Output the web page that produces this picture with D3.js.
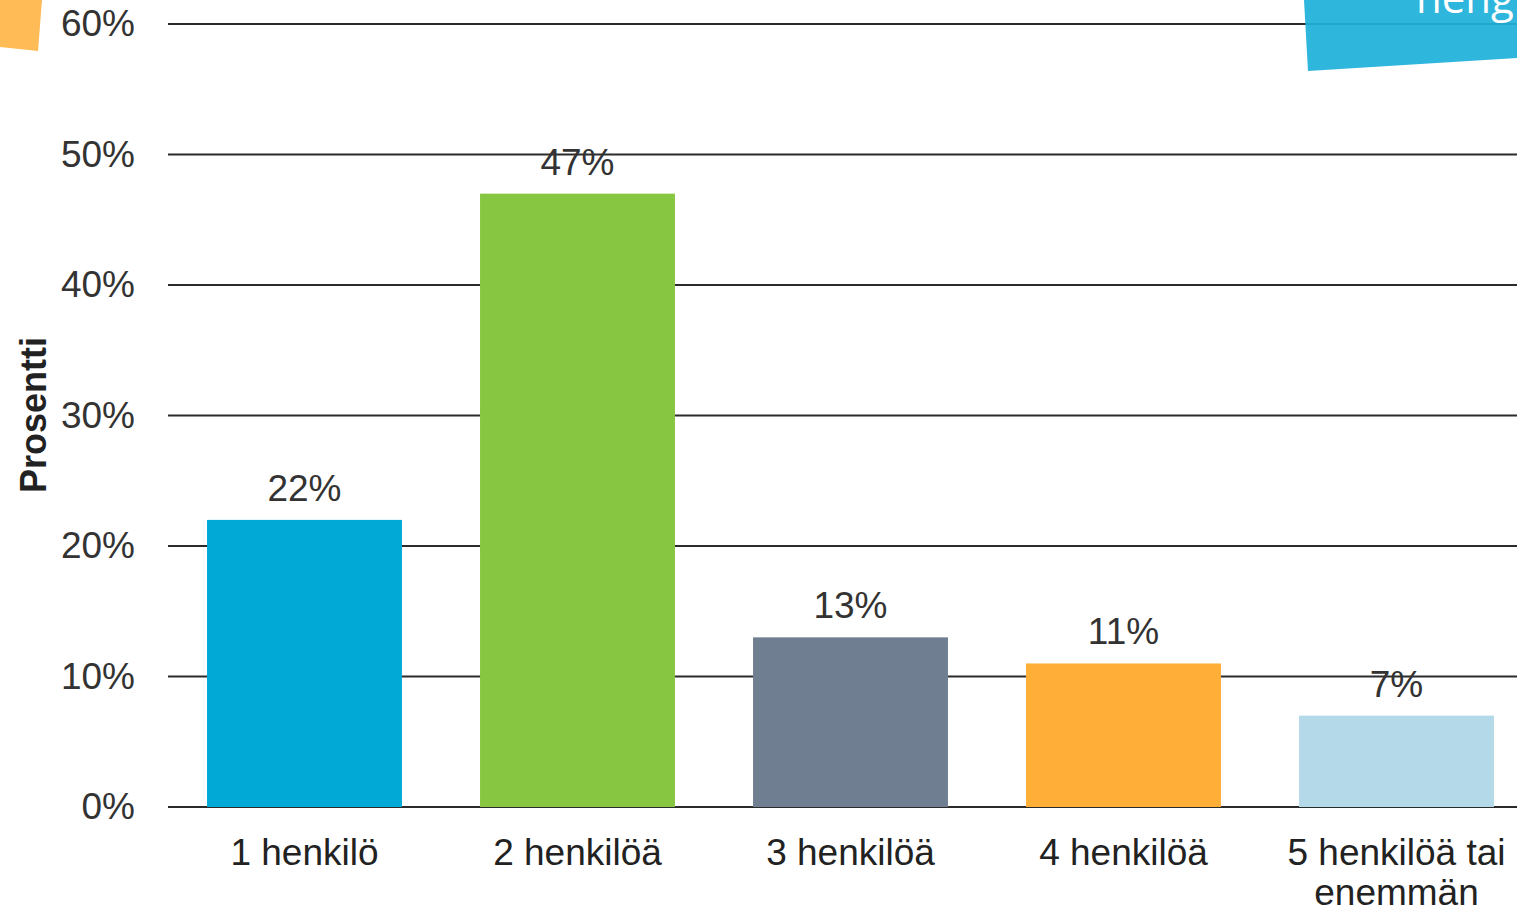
<!DOCTYPE html>
<html>
<head>
<meta charset="utf-8">
<script src="https://cdn.jsdelivr.net/npm/d3@7"></script>
<style>
  body { margin: 0; background: #fff; overflow: hidden; }
  svg { display: block; font-family: "Liberation Sans", Arial, sans-serif; }
</style>
</head>
<body>
<svg id="chart" width="1517" height="911"></svg>
<script>
const categories = [['1 henkilö'], ['2 henkilöä'], ['3 henkilöä'], ['4 henkilöä'], ['5 henkilöä tai', 'enemmän']]
const values = [22, 47, 13, 11, 7]
const barColors = ['#00a9d6', '#86c640', '#6f7f91', '#ffaf37', '#b4d9e8']
const yTicks = [0, 10, 20, 30, 40, 50, 60]

const svg = d3.select('#chart')
const y = d3.scaleLinear().domain([0, 60]).range([807, 24])
const x = d3.scaleBand()
            .domain(d3.range(values.length))
            .range([168, 1533])
            .paddingInner(0.286)
            .paddingOuter(0.143)

// gridlines + tick labels
const yAxis = d3.axisLeft(y).tickValues(yTicks).tickSize(0).tickPadding(0).tickFormat(d => d + '%')
const yg = svg.append('g').attr('transform', 'translate(135,0)').call(yAxis)
yg.select('.domain').remove()
yg.selectAll('text').attr('font-size', 37).attr('fill', '#333').attr('font-family', '"Liberation Sans", Arial, sans-serif')

svg.append('g').selectAll('line')
   .data(yTicks)
   .join('line')
   .attr('x1', 168).attr('x2', 1517)
   .attr('y1', d => y(d)).attr('y2', d => y(d))
   .attr('stroke', '#2b2b2b').attr('stroke-width', 2)

// bars
svg.append('g').selectAll('rect')
   .data(values)
   .join('rect')
   .attr('x', (d, i) => x(i))
   .attr('width', x.bandwidth())
   .attr('y', d => y(d))
   .attr('height', d => y(0) - y(d))
   .attr('fill', (d, i) => barColors[i])

// value labels
svg.append('g').selectAll('text')
   .data(values)
   .join('text')
   .attr('x', (d, i) => x(i) + x.bandwidth() / 2)
   .attr('y', d => y(d) - 19)
   .attr('text-anchor', 'middle')
   .attr('font-size', 37)
   .attr('fill', '#333')
   .text(d => d + '%')

// category labels
const cat = svg.append('g').selectAll('text')
   .data(categories)
   .join('text')
   .attr('x', (d, i) => x(i) + x.bandwidth() / 2)
   .attr('y', 865)
   .attr('text-anchor', 'middle')
   .attr('font-size', 37)
   .attr('fill', '#222')
cat.selectAll('tspan')
   .data(d => d)
   .join('tspan')
   .attr('x', function() { return this.parentNode.getAttribute('x') })
   .attr('dy', (d, i) => i === 0 ? 0 : 40)
   .text(d => d)

// axis title
svg.append('text')
   .attr('transform', 'translate(46,415) rotate(-90)')
   .attr('text-anchor', 'middle')
   .attr('font-size', 36)
   .attr('font-weight', 'bold')
   .attr('fill', '#222')
   .text('Prosentti')

// decorative sticky notes cut by the frame
svg.append('path')
   .attr('d', 'M0,0 L42,0 L38,51 L0,47 Z')
   .attr('fill', '#ffbb55')

svg.append('path')
   .attr('d', 'M1304,0 L1517,0 L1517,58 L1308,71 Z')
   .attr('fill', '#1fb0da')
   .attr('fill-opacity', 0.93)

svg.append('text')
   .attr('x', 1416)
   .attr('y', 13)
   .attr('font-family', '"Open Sans", sans-serif')
   .attr('font-size', 42)
   .attr('fill', '#fff')
   .text('heng')
</script>
</body>
</html>
